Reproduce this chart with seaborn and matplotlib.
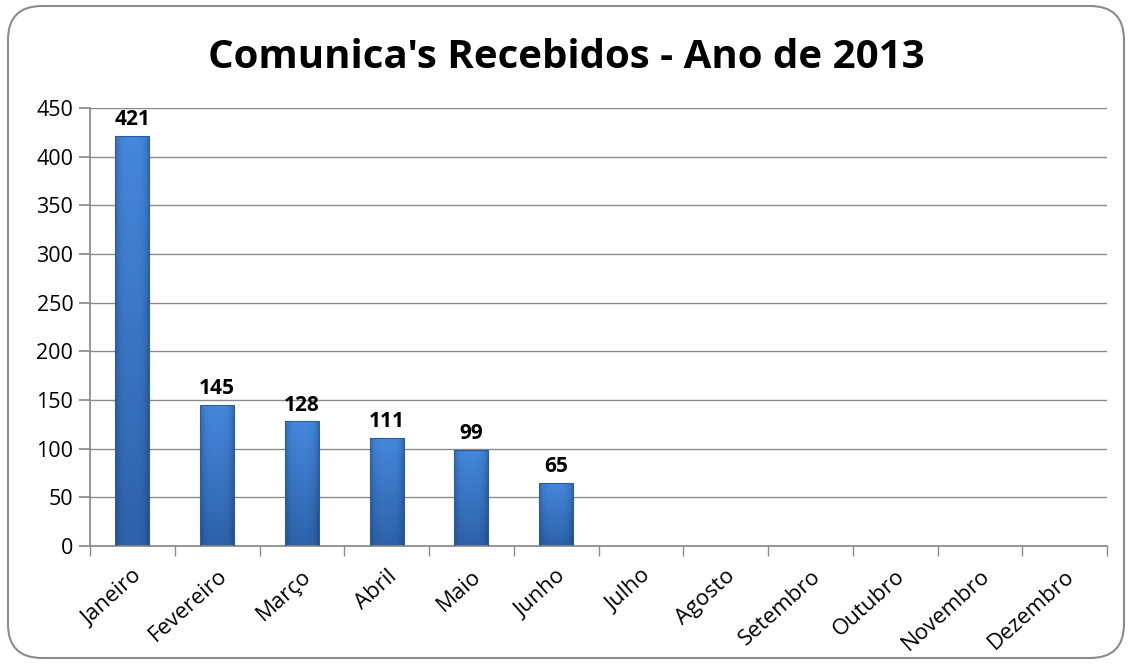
import matplotlib
matplotlib.use("Agg")
import matplotlib.pyplot as plt
import seaborn as sns
import pandas as pd
import numpy as np
from matplotlib.patches import FancyBboxPatch

months = ["Janeiro", "Fevereiro", "Março", "Abril", "Maio", "Junho",
          "Julho", "Agosto", "Setembro", "Outubro", "Novembro", "Dezembro"]
values = [421, 145, 128, 111, 99, 65, 0, 0, 0, 0, 0, 0]
shown = [True, True, True, True, True, True, False, False, False, False, False, False]
yticks = [0, 50, 100, 150, 200, 250, 300, 350, 400, 450]

sns.set_theme(style="white")
plt.rcParams['font.family'] = ['Open Sans', 'DejaVu Sans']

df = pd.DataFrame({"mes": months, "valor": values})

fig = plt.figure(figsize=(11.32, 6.64), dpi=100)
frame = FancyBboxPatch((8/1132, 6/664), 1116/1132, 652/664,
                       boxstyle="round,pad=0,rounding_size=0.03",
                       transform=fig.transFigure, facecolor="white",
                       edgecolor="#8c8c8c", linewidth=1.5, mutation_aspect=1132/664,
                       zorder=-5)
fig.patches.append(frame)

ax = fig.add_axes([90/1132, 1-546/664, (1107-90)/1132, (546-108)/664])
ax.set_facecolor("none")
sns.barplot(data=df, x="mes", y="valor", order=months, color="#3a78c4",
            width=0.4, ax=ax, edgecolor="#2b5c9c", linewidth=0.8, saturation=1)

# shading: lighter at top, darker at bottom, darker side edges
top = np.array([0x45, 0x88, 0xdc]) / 255
bot = np.array([0x2d, 0x62, 0xaa]) / 255
t = np.linspace(0, 1, 128)[:, None, None]          # 0 top -> 1 bottom
xs = np.linspace(-1, 1, 64)[None, :, None]
side = 1 - 0.22 * np.abs(xs) ** 4
img = ((1 - t) * top + t * bot) * side
img = np.clip(img, 0, 1)

for p in ax.patches:
    h = p.get_height()
    if h <= 0:
        p.set_visible(False)
        continue
    x0, w = p.get_x(), p.get_width()
    im = ax.imshow(img, aspect="auto", extent=(x0, x0 + w, 0, h), zorder=2,
                   interpolation="bilinear")
    im.set_clip_path(p)
    p.set_zorder(3)
    p.set_facecolor("none")
ax.set_ylim(0, 450)
ax.set_xlim(-0.5, len(months) - 0.5)

ax.set_yticks(yticks)
ax.yaxis.grid(True, color="#8a8a8a", linewidth=1)
ax.set_axisbelow(True)
for s in ["top", "right"]:
    ax.spines[s].set_visible(False)
ax.spines["left"].set_color("#8a8a8a")
ax.spines["bottom"].set_color("#8a8a8a")
ax.set_xlabel("")
ax.set_ylabel("")

ax.tick_params(axis="y", left=True, length=8, color="#8a8a8a", labelsize=15.5,
               labelcolor="black", pad=4)
ax.set_xticks(range(len(months)))
ax.set_xticklabels(months, rotation=42, ha="right", rotation_mode="anchor", fontsize=16,
                   color="black")
ax.tick_params(axis="x", bottom=False, pad=8)
ax.set_xticks([i - 0.5 for i in range(len(months) + 1)], minor=True)
ax.tick_params(axis="x", which="minor", bottom=True, length=7, color="#8a8a8a")

for i, (v, s) in enumerate(zip(values, shown)):
    if s:
        ax.text(i, v + 6, str(v), ha="center", va="bottom", fontsize=15,
                fontweight="bold", color="black")

fig.text(0.5, 1-58/664, "Comunica's Recebidos - Ano de 2013", ha="center", va="center",
         fontsize=29, fontweight="bold", color="black")

fig.savefig("out.png", dpi=100)
